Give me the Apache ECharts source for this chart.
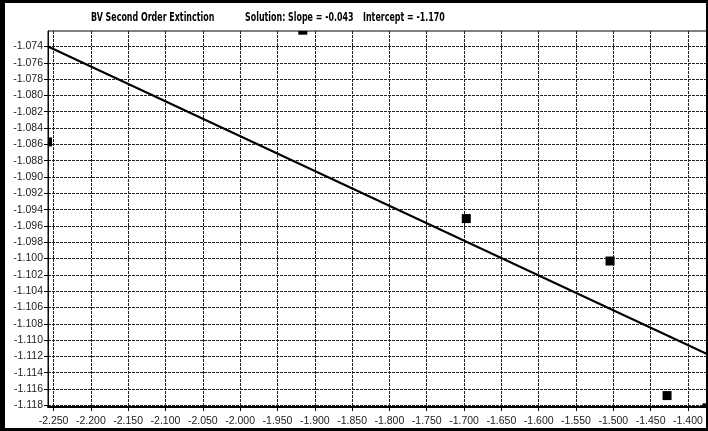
<!DOCTYPE html>
<html>
<head>
<meta charset="utf-8">
<script src="https://cdn.jsdelivr.net/npm/echarts@6/dist/echarts.min.js"></script>
<style>
html,body{margin:0;padding:0;background:#fff;}
#chart{width:708px;height:431px;}
</style>
</head>
<body>
<div id="chart"></div>
<script>
// ---- data ----
const titleMain = 'BV Second Order Extinction';
const titleSlope = 'Solution: Slope = -0.043';
const titleIntercept = 'Intercept = -1.170';
const pointX = [-1.916, -2.258, -1.697, -1.5044, -1.428, -1.3745];
const pointY = [-1.0720, -1.0857, -1.0951, -1.1003, -1.1168, -1.1183];
const fitX = [-2.2574, -1.3745];
const fitY = [-1.0740, -1.1117];
const xMin = -2.2574, xMax = -1.3745;
const yMin = -1.1182, yMax = -1.0721;
const xTicks = [-2.25, -2.2, -2.15, -2.1, -2.05, -2.0, -1.95, -1.9, -1.85, -1.8, -1.75, -1.7, -1.65, -1.6, -1.55, -1.5, -1.45, -1.4];
const yTicks = [-1.074, -1.076, -1.078, -1.08, -1.082, -1.084, -1.086, -1.088, -1.09, -1.092, -1.094, -1.096, -1.098, -1.1, -1.102, -1.104, -1.106, -1.108, -1.11, -1.112, -1.114, -1.116, -1.118];

const chart = echarts.init(document.getElementById('chart'), null, {renderer: 'canvas'});
const labelFont = {fontFamily: "'Liberation Sans', Arial, sans-serif", fontSize: 10.5, color: '#222'};
const gridLine = {show: true, lineStyle: {color: '#222', width: 1, type: [3, 1]}};
const titleFont = "bold 13px 'DejaVu Sans', sans-serif";
function titleText(txt, x) {
  return {type: 'text', x: x, y: 18, scaleX: 0.61, z: 100,
          style: {text: txt, font: titleFont, fill: '#000', verticalAlign: 'middle', align: 'left'}};
}

const option = {
  backgroundColor: '#fff',
  animation: false,
  graphic: [
    {type: 'rect', left: 0, top: 0, shape: {width: 5, height: 431}, style: {fill: '#000'}, z: 100},
    {type: 'rect', left: 0, top: 0, shape: {width: 708, height: 3}, style: {fill: '#000'}, z: 100},
    {type: 'rect', left: 0, top: 428, shape: {width: 708, height: 3}, style: {fill: '#000'}, z: 100},
    {type: 'rect', left: 706, top: 0, shape: {width: 2, height: 431}, style: {fill: '#000'}, z: 100},
    titleText(titleMain, 91),
    titleText(titleSlope, 245),
    titleText(titleIntercept, 363)
  ],
  grid: {left: 48, right: 1, top: 31, bottom: 24, show: true, borderColor: '#000', borderWidth: 1, backgroundColor: '#fff'},
  xAxis: {
    type: 'value', min: xMin, max: xMax, splitNumber: 17,
    axisLine: {show: true, onZero: false, lineStyle: {color: '#000', width: 2}},
    axisTick: {show: true, length: 4, inside: false, customValues: xTicks, lineStyle: {color: '#000'}},
    axisLabel: Object.assign({margin: 9, customValues: xTicks, formatter: v => v.toFixed(3)}, labelFont),
    splitLine: gridLine
  },
  yAxis: {
    type: 'value', min: yMin, max: yMax, splitNumber: 23,
    axisLine: {show: true, onZero: false, lineStyle: {color: '#000', width: 1}},
    axisTick: {show: true, length: 4, inside: false, customValues: yTicks, lineStyle: {color: '#000'}},
    axisLabel: Object.assign({margin: 5, customValues: yTicks, formatter: v => v.toFixed(3)}, labelFont),
    splitLine: gridLine
  },
  series: [
    {
      type: 'line', data: fitX.map((x, i) => [x, fitY[i]]),
      showSymbol: false, symbol: 'none', clip: true,
      lineStyle: {color: '#000', width: 2}, z: 3
    },
    {
      type: 'custom', coordinateSystem: 'cartesian2d',
      data: pointX.map((x, i) => [x, pointY[i]]),
      encode: {x: 0, y: 1}, z: 4,
      renderItem: function (params, api) {
        const p = api.coord([api.value(0), api.value(1)]);
        const s = 9;
        const cs = params.coordSys;
        const shape = echarts.graphic.clipRectByRect(
          {x: p[0] - s / 2, y: p[1] - s / 2, width: s, height: s},
          {x: cs.x, y: cs.y, width: cs.width, height: cs.height});
        if (!shape) return null;
        return {type: 'rect', shape: shape, style: {fill: '#000'}};
      }
    }
  ]
};
chart.setOption(option);
</script>
</body>
</html>
